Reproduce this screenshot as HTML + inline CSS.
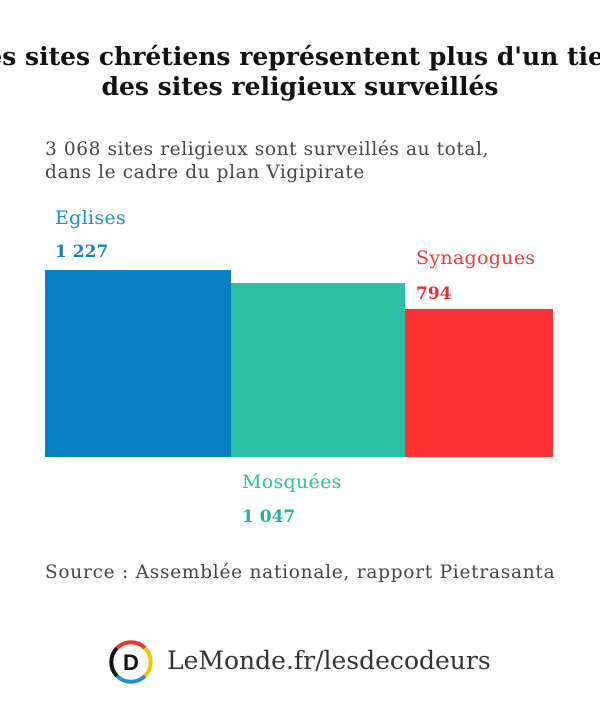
<!DOCTYPE html>
<html><head><meta charset="utf-8"><style>
body{margin:0;width:600px;height:721px;background:#fff;position:relative;overflow:hidden;font-family:"DejaVu Serif",serif;}
.a{position:absolute;white-space:nowrap;}
.t{left:-300px;width:1200px;text-align:center;font-weight:bold;font-size:25px;color:#111;}
.s{left:45px;font-size:18.5px;color:#444;}
.l{font-size:19px;letter-spacing:0.3px;}
.v{font-size:17px;font-weight:bold;}
.b{position:absolute;}
</style></head><body>
<div class="a t" style="top:42px">Les sites chrétiens représentent plus d'un tiers</div>
<div class="a t" style="top:72px">des sites religieux surveillés</div>
<div class="a s" style="top:139px;letter-spacing:0.6px">3 068 sites religieux sont surveillés au total,</div>
<div class="a s" style="top:162px;letter-spacing:0.6px">dans le cadre du plan Vigipirate</div>
<div class="a l" style="left:55px;top:207px;color:#1a8fc9">Eglises</div>
<div class="a v" style="left:55px;top:242px;color:#1a7fc0">1 227</div>
<div class="a l" style="left:416px;top:247px;color:#ee3a3a">Synagogues</div>
<div class="a v" style="left:416px;top:284px;color:#e8302e">794</div>
<div class="b" style="left:45px;top:270px;width:186px;height:187px;background:#0781c3"></div>
<div class="b" style="left:231px;top:283px;width:174px;height:174px;background:#2bbfa6"></div>
<div class="b" style="left:405px;top:309px;width:148px;height:148px;background:#fe3232"></div>
<div class="a l" style="left:242px;top:471px;color:#2bbfa6">Mosquées</div>
<div class="a v" style="left:242px;top:507px;color:#25b09a">1 047</div>
<div class="a s" style="top:562px;letter-spacing:0.75px">Source : Assemblée nationale, rapport Pietrasanta</div>
<svg class="b" style="left:108px;top:639px" width="46" height="46" viewBox="0 0 46 46">
<path d="M9 9 A20 20 0 0 1 37 9" stroke="#e33" stroke-width="4" fill="none"/>
<path d="M37 9 A20 20 0 0 1 37 37" stroke="#f5c400" stroke-width="4" fill="none"/>
<path d="M37 37 A20 20 0 0 1 9 37" stroke="#1a8fd6" stroke-width="4" fill="none"/>
<path d="M9 37 A20 20 0 0 1 9 9" stroke="#111" stroke-width="4" fill="none"/>
<text x="23" y="31" text-anchor="middle" font-family="Liberation Sans,sans-serif" font-weight="bold" font-size="22" fill="#111">D</text>
</svg>
<div class="a" style="left:167px;top:646px;font-size:25px;color:#333">LeMonde.fr/lesdecodeurs</div>
</body></html>
